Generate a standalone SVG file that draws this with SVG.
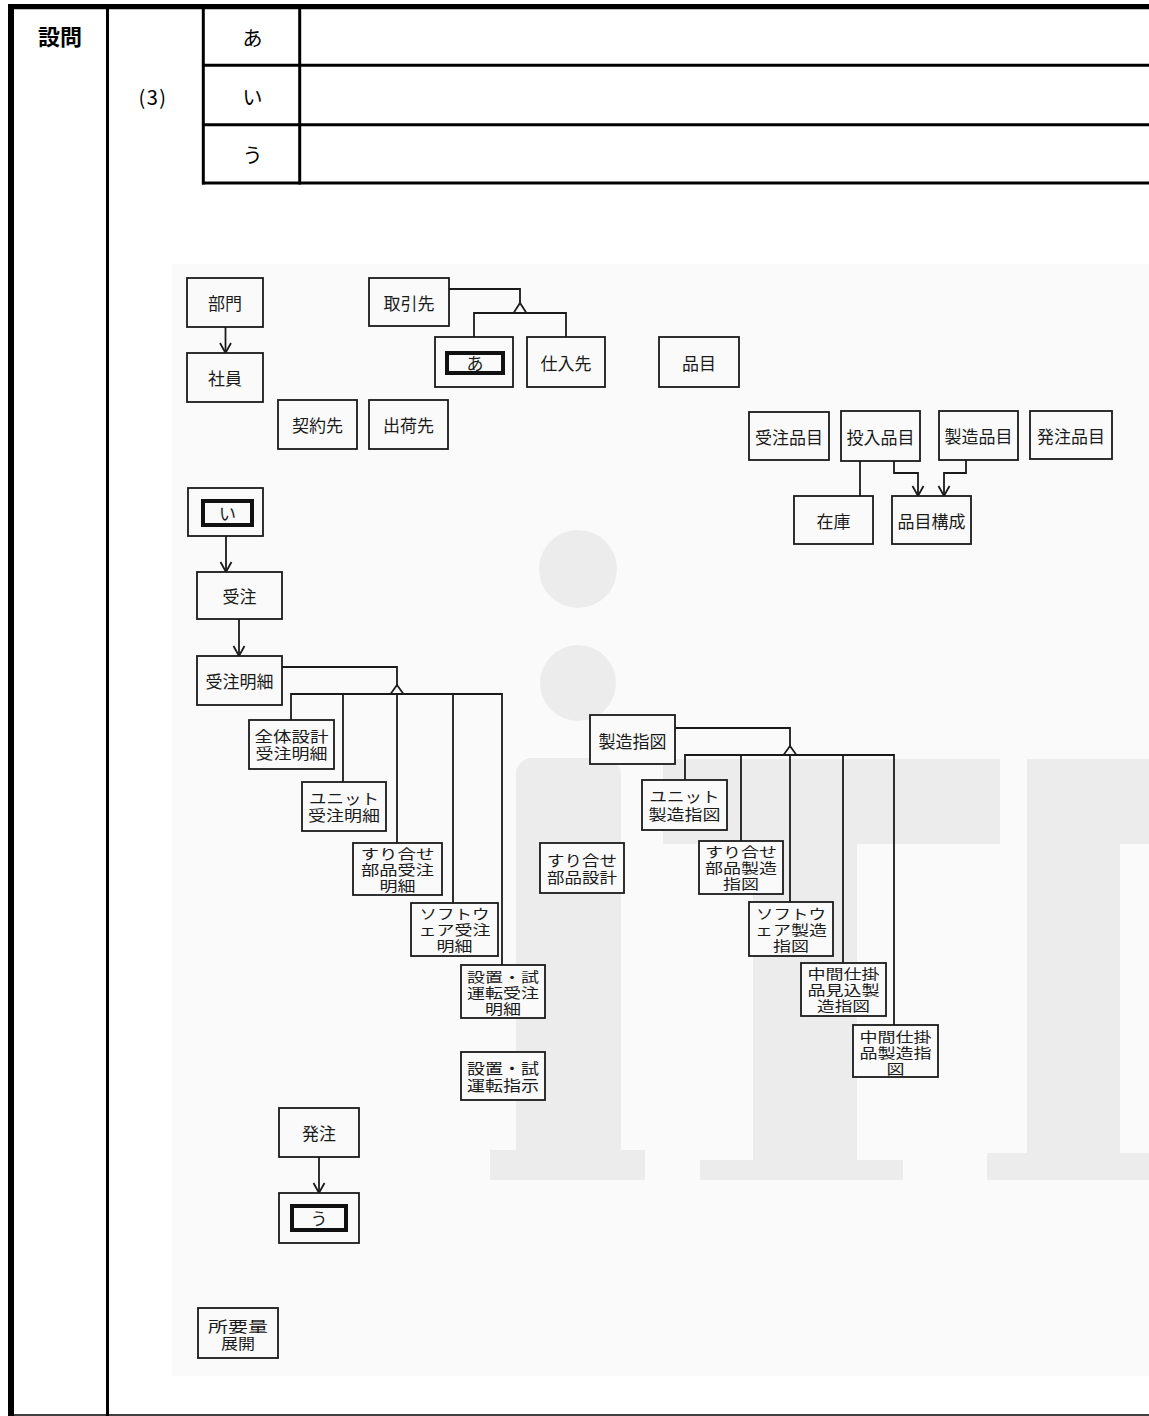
<svg xmlns="http://www.w3.org/2000/svg" width="1149" height="1416" viewBox="0 0 1149 1416">
<defs>
<style>
.tbl{stroke:#000;fill:none}
.ttx{font-family:"Noto Sans CJK JP","Noto Sans",sans-serif;fill:#000;text-anchor:middle;dominant-baseline:central}
.box{fill:#fafafa;stroke:#1a1a1a;stroke-width:1.8}
.inner{fill:#fafafa;stroke:#111;stroke-width:4}
.lbl{font-family:"Noto Sans CJK JP",sans-serif;font-size:17px;fill:#1a1a1a;text-anchor:middle;dominant-baseline:central}
.m2{font-family:"Liberation Sans","Noto Sans CJK JP",sans-serif;font-size:15px;fill:#1a1a1a;text-anchor:middle;dominant-baseline:central}
.m3{font-family:"Liberation Sans","Noto Sans CJK JP",sans-serif;font-size:14px;fill:#1a1a1a;text-anchor:middle;dominant-baseline:central}
.ln{fill:none;stroke:#1a1a1a;stroke-width:1.8}
.tri{fill:#fafafa;stroke:#1a1a1a;stroke-width:1.8;stroke-linejoin:miter}
.wm{fill:#ececec}
</style>
<marker id="arr" viewBox="-11 -7 13 14" refX="0" refY="0" markerWidth="13" markerHeight="14" markerUnits="userSpaceOnUse" orient="auto">
<path d="M-10,-5.5 L0,0 L-10,5.5" fill="none" stroke="#1a1a1a" stroke-width="1.8"/>
</marker>
</defs>
<rect width="1149" height="1416" fill="#fff"/>
<g id="table">
<line class="tbl" x1="11" y1="4" x2="11" y2="1416" stroke-width="6"/>
<line class="tbl" x1="8" y1="6.7" x2="1149" y2="6.7" stroke-width="5.3"/>
<line class="tbl" x1="107.5" y1="6" x2="107.5" y2="1416" stroke-width="3"/>
<line class="tbl" x1="203.3" y1="6" x2="203.3" y2="184.5" stroke-width="3"/>
<line class="tbl" x1="299.7" y1="6" x2="299.7" y2="184.5" stroke-width="3"/>
<line class="tbl" x1="202" y1="65.3" x2="1149" y2="65.3" stroke-width="3"/>
<line class="tbl" x1="202" y1="124.7" x2="1149" y2="124.7" stroke-width="3"/>
<line class="tbl" x1="202" y1="183" x2="1149" y2="183" stroke-width="3"/>
<line class="tbl" x1="8" y1="1415" x2="1149" y2="1415" stroke-width="1.6"/>
<text class="ttx" x="60" y="35" font-size="22" font-weight="700">設問</text>
<text class="ttx" x="153" y="96" font-size="20" letter-spacing="1.5">(3)</text>
<text class="ttx" x="252.5" y="37" font-size="20">あ</text>
<text class="ttx" x="252.5" y="96" font-size="20">い</text>
<text class="ttx" x="252.5" y="154" font-size="20">う</text>
</g>
<g id="background">
<rect x="172" y="264" width="977" height="1112" fill="#fafafa"/>
<circle class="wm" cx="578" cy="569" r="39"/>
<circle class="wm" cx="578" cy="683" r="38"/>
<rect class="wm" x="516" y="758" width="105" height="422" rx="16"/>
<rect class="wm" x="490" y="1150" width="155" height="30"/>
<rect class="wm" x="663" y="759" width="337" height="85"/>
<rect class="wm" x="753" y="759" width="104" height="421"/>
<rect class="wm" x="700" y="1160" width="203" height="20"/>
<rect class="wm" x="1027" y="759" width="93" height="421"/>
<rect class="wm" x="1027" y="759" width="122" height="85"/>
<rect class="wm" x="987" y="1153" width="162" height="27"/>
</g>
<g id="connectors">
<line class="ln" x1="225.5" y1="327" x2="225.5" y2="353" marker-end="url(#arr)"/>
<line class="ln" x1="226" y1="536" x2="226" y2="572" marker-end="url(#arr)"/>
<line class="ln" x1="239" y1="619" x2="239" y2="656" marker-end="url(#arr)"/>
<line class="ln" x1="319" y1="1157" x2="319" y2="1193" marker-end="url(#arr)"/>
<line class="ln" x1="860" y1="461" x2="860" y2="496"/>
<polyline class="ln" points="894,461 894,473 918,473 918,496" marker-end="url(#arr)"/>
<polyline class="ln" points="966,460 966,473 944,473 944,496" marker-end="url(#arr)"/>
<polyline class="ln" points="449,289 520,289 520,303"/>
<line class="ln" x1="474" y1="313" x2="566" y2="313"/>
<line class="ln" x1="474" y1="312" x2="474" y2="337"/>
<line class="ln" x1="566" y1="312" x2="566" y2="337"/>
<polygon class="tri" points="520,303 513.5,313 526.5,313"/>
<polyline class="ln" points="282,667 397,667 397,685"/>
<line class="ln" x1="291" y1="694" x2="502" y2="694"/>
<line class="ln" x1="291" y1="693" x2="291" y2="720"/>
<line class="ln" x1="343" y1="693" x2="343" y2="782"/>
<line class="ln" x1="397" y1="694" x2="397" y2="843"/>
<line class="ln" x1="453" y1="693" x2="453" y2="903"/>
<line class="ln" x1="502" y1="693" x2="502" y2="965"/>
<polygon class="tri" points="397,685 390.5,694 403.5,694"/>
<polyline class="ln" points="675,728 790,728 790,746"/>
<line class="ln" x1="685" y1="755" x2="894" y2="755"/>
<line class="ln" x1="685" y1="754" x2="685" y2="780"/>
<line class="ln" x1="741" y1="754" x2="741" y2="841"/>
<line class="ln" x1="790" y1="755" x2="790" y2="902"/>
<line class="ln" x1="843" y1="754" x2="843" y2="963"/>
<line class="ln" x1="894" y1="754" x2="894" y2="1025"/>
<polygon class="tri" points="790,746 783.5,755 796.5,755"/>
</g>
<g id="n-bumon"><rect class="box" x="187" y="278" width="76" height="49"/><text class="lbl" x="225" y="302">部門</text></g>
<g id="n-shain"><rect class="box" x="187" y="353" width="76" height="49"/><text class="lbl" x="225" y="377">社員</text></g>
<g id="n-torihikisaki"><rect class="box" x="369" y="278" width="80" height="48"/><text class="lbl" x="409" y="302">取引先</text></g>
<g id="n-a"><rect class="box" x="435" y="337" width="78" height="50"/><rect class="inner" x="447" y="353" width="56" height="20"/><text class="lbl" x="475" y="362">あ</text></g>
<g id="n-shiiresaki"><rect class="box" x="527" y="337" width="78" height="50"/><text class="lbl" x="566" y="362">仕入先</text></g>
<g id="n-keiyakusaki"><rect class="box" x="278" y="400" width="79" height="49"/><text class="lbl" x="317.5" y="424">契約先</text></g>
<g id="n-shukkasaki"><rect class="box" x="369" y="400" width="79" height="49"/><text class="lbl" x="408.5" y="424">出荷先</text></g>
<g id="n-hinmoku"><rect class="box" x="659" y="337" width="80" height="50"/><text class="lbl" x="699" y="362">品目</text></g>
<g id="n-juchuhinmoku"><rect class="box" x="749" y="412" width="80" height="48"/><text class="lbl" x="789" y="436">受注品目</text></g>
<g id="n-tonyuhinmoku"><rect class="box" x="841" y="411" width="79" height="50"/><text class="lbl" x="880.5" y="436">投入品目</text></g>
<g id="n-seizohinmoku"><rect class="box" x="939" y="411" width="79" height="49"/><text class="lbl" x="978.5" y="435.5">製造品目</text></g>
<g id="n-hacchuhinmoku"><rect class="box" x="1030" y="411" width="82" height="48"/><text class="lbl" x="1071" y="435">発注品目</text></g>
<g id="n-zaiko"><rect class="box" x="794" y="496" width="79" height="48"/><text class="lbl" x="833.5" y="520">在庫</text></g>
<g id="n-hinmokukosei"><rect class="box" x="892" y="496" width="79" height="48"/><text class="lbl" x="931.5" y="520">品目構成</text></g>
<g id="n-i"><rect class="box" x="188" y="488" width="75" height="48"/><rect class="inner" x="203" y="501" width="49" height="24"/><text class="lbl" x="227.5" y="512">い</text></g>
<g id="n-juchu"><rect class="box" x="197" y="572" width="85" height="47"/><text class="lbl" x="239.5" y="595.5">受注</text></g>
<g id="n-juchumeisai"><rect class="box" x="197" y="656" width="85" height="49"/><text class="lbl" x="239.5" y="680.5">受注明細</text></g>
<g id="n-zentai"><rect class="box" x="249" y="720" width="85" height="49"/><text class="m2"><tspan x="291.5" y="736" textLength="74" lengthAdjust="spacingAndGlyphs">全体設計</tspan><tspan x="291.5" y="753" textLength="72" lengthAdjust="spacingAndGlyphs">受注明細</tspan></text></g>
<g id="n-unit-juchu"><rect class="box" x="302" y="782" width="84" height="49"/><text class="m2"><tspan x="344" y="797.5" textLength="70" lengthAdjust="spacingAndGlyphs">ユニット</tspan><tspan x="344" y="815" textLength="72" lengthAdjust="spacingAndGlyphs">受注明細</tspan></text></g>
<g id="n-suri-juchu"><rect class="box" x="353" y="843" width="89" height="52"/><text class="m3"><tspan x="397.5" y="853.5" textLength="74" lengthAdjust="spacingAndGlyphs">すり合せ</tspan><tspan x="397.5" y="869.5" textLength="73" lengthAdjust="spacingAndGlyphs">部品受注</tspan><tspan x="397.5" y="885.5" textLength="36" lengthAdjust="spacingAndGlyphs">明細</tspan></text></g>
<g id="n-soft-juchu"><rect class="box" x="411" y="903" width="87" height="53"/><text class="m3"><tspan x="454.5" y="914" textLength="70" lengthAdjust="spacingAndGlyphs">ソフトウ</tspan><tspan x="454.5" y="930" textLength="72" lengthAdjust="spacingAndGlyphs">ェア受注</tspan><tspan x="454.5" y="946" textLength="36" lengthAdjust="spacingAndGlyphs">明細</tspan></text></g>
<g id="n-setchi-juchu"><rect class="box" x="461" y="965" width="84" height="53"/><text class="m3"><tspan x="503" y="976.5" textLength="72" lengthAdjust="spacingAndGlyphs">設置・試</tspan><tspan x="503" y="992.5" textLength="72" lengthAdjust="spacingAndGlyphs">運転受注</tspan><tspan x="503" y="1008.5" textLength="36" lengthAdjust="spacingAndGlyphs">明細</tspan></text></g>
<g id="n-setchi-shiji"><rect class="box" x="461" y="1052" width="84" height="48"/><text class="m2"><tspan x="503" y="1067.5" textLength="72" lengthAdjust="spacingAndGlyphs">設置・試</tspan><tspan x="503" y="1084.5" textLength="72" lengthAdjust="spacingAndGlyphs">運転指示</tspan></text></g>
<g id="n-suri-sekkei"><rect class="box" x="540" y="843" width="84" height="50"/><text class="m2"><tspan x="582" y="859.5" textLength="70" lengthAdjust="spacingAndGlyphs">すり合せ</tspan><tspan x="582" y="876.5" textLength="70" lengthAdjust="spacingAndGlyphs">部品設計</tspan></text></g>
<g id="n-seizoshizu"><rect class="box" x="590" y="715" width="85" height="49"/><text class="lbl" x="632.5" y="740">製造指図</text></g>
<g id="n-unit-seizo"><rect class="box" x="642" y="780" width="85" height="50"/><text class="m2"><tspan x="684.5" y="796" textLength="70" lengthAdjust="spacingAndGlyphs">ユニット</tspan><tspan x="684.5" y="813.5" textLength="72" lengthAdjust="spacingAndGlyphs">製造指図</tspan></text></g>
<g id="n-suri-seizo"><rect class="box" x="699" y="841" width="84" height="53"/><text class="m3"><tspan x="741" y="852" textLength="72" lengthAdjust="spacingAndGlyphs">すり合せ</tspan><tspan x="741" y="868" textLength="72" lengthAdjust="spacingAndGlyphs">部品製造</tspan><tspan x="741" y="884" textLength="36" lengthAdjust="spacingAndGlyphs">指図</tspan></text></g>
<g id="n-soft-seizo"><rect class="box" x="749" y="902" width="84" height="54"/><text class="m3"><tspan x="791" y="914" textLength="70" lengthAdjust="spacingAndGlyphs">ソフトウ</tspan><tspan x="791" y="930" textLength="72" lengthAdjust="spacingAndGlyphs">ェア製造</tspan><tspan x="791" y="946" textLength="36" lengthAdjust="spacingAndGlyphs">指図</tspan></text></g>
<g id="n-chukan-mikomi"><rect class="box" x="801" y="963" width="85" height="53"/><text class="m3"><tspan x="843.5" y="974" textLength="72" lengthAdjust="spacingAndGlyphs">中間仕掛</tspan><tspan x="843.5" y="990" textLength="72" lengthAdjust="spacingAndGlyphs">品見込製</tspan><tspan x="843.5" y="1006" textLength="53" lengthAdjust="spacingAndGlyphs">造指図</tspan></text></g>
<g id="n-chukan-seizo"><rect class="box" x="853" y="1025" width="85" height="52"/><text class="m3"><tspan x="895.5" y="1037" textLength="72" lengthAdjust="spacingAndGlyphs">中間仕掛</tspan><tspan x="895.5" y="1053" textLength="72" lengthAdjust="spacingAndGlyphs">品製造指</tspan><tspan x="895.5" y="1069" textLength="18" lengthAdjust="spacingAndGlyphs">図</tspan></text></g>
<g id="n-hacchu"><rect class="box" x="279" y="1108" width="80" height="49"/><text class="lbl" x="319" y="1132">発注</text></g>
<g id="n-u"><rect class="box" x="279" y="1193" width="80" height="50"/><rect class="inner" x="292" y="1206" width="54" height="24"/><text class="lbl" x="319" y="1217">う</text></g>
<g id="n-shoyoryo"><rect class="box" x="198" y="1308" width="80" height="50"/><text class="m2"><tspan x="238" y="1325.5" textLength="60" lengthAdjust="spacingAndGlyphs">所要量</tspan><tspan x="238" y="1343" textLength="34" lengthAdjust="spacingAndGlyphs">展開</tspan></text></g>
</svg>
